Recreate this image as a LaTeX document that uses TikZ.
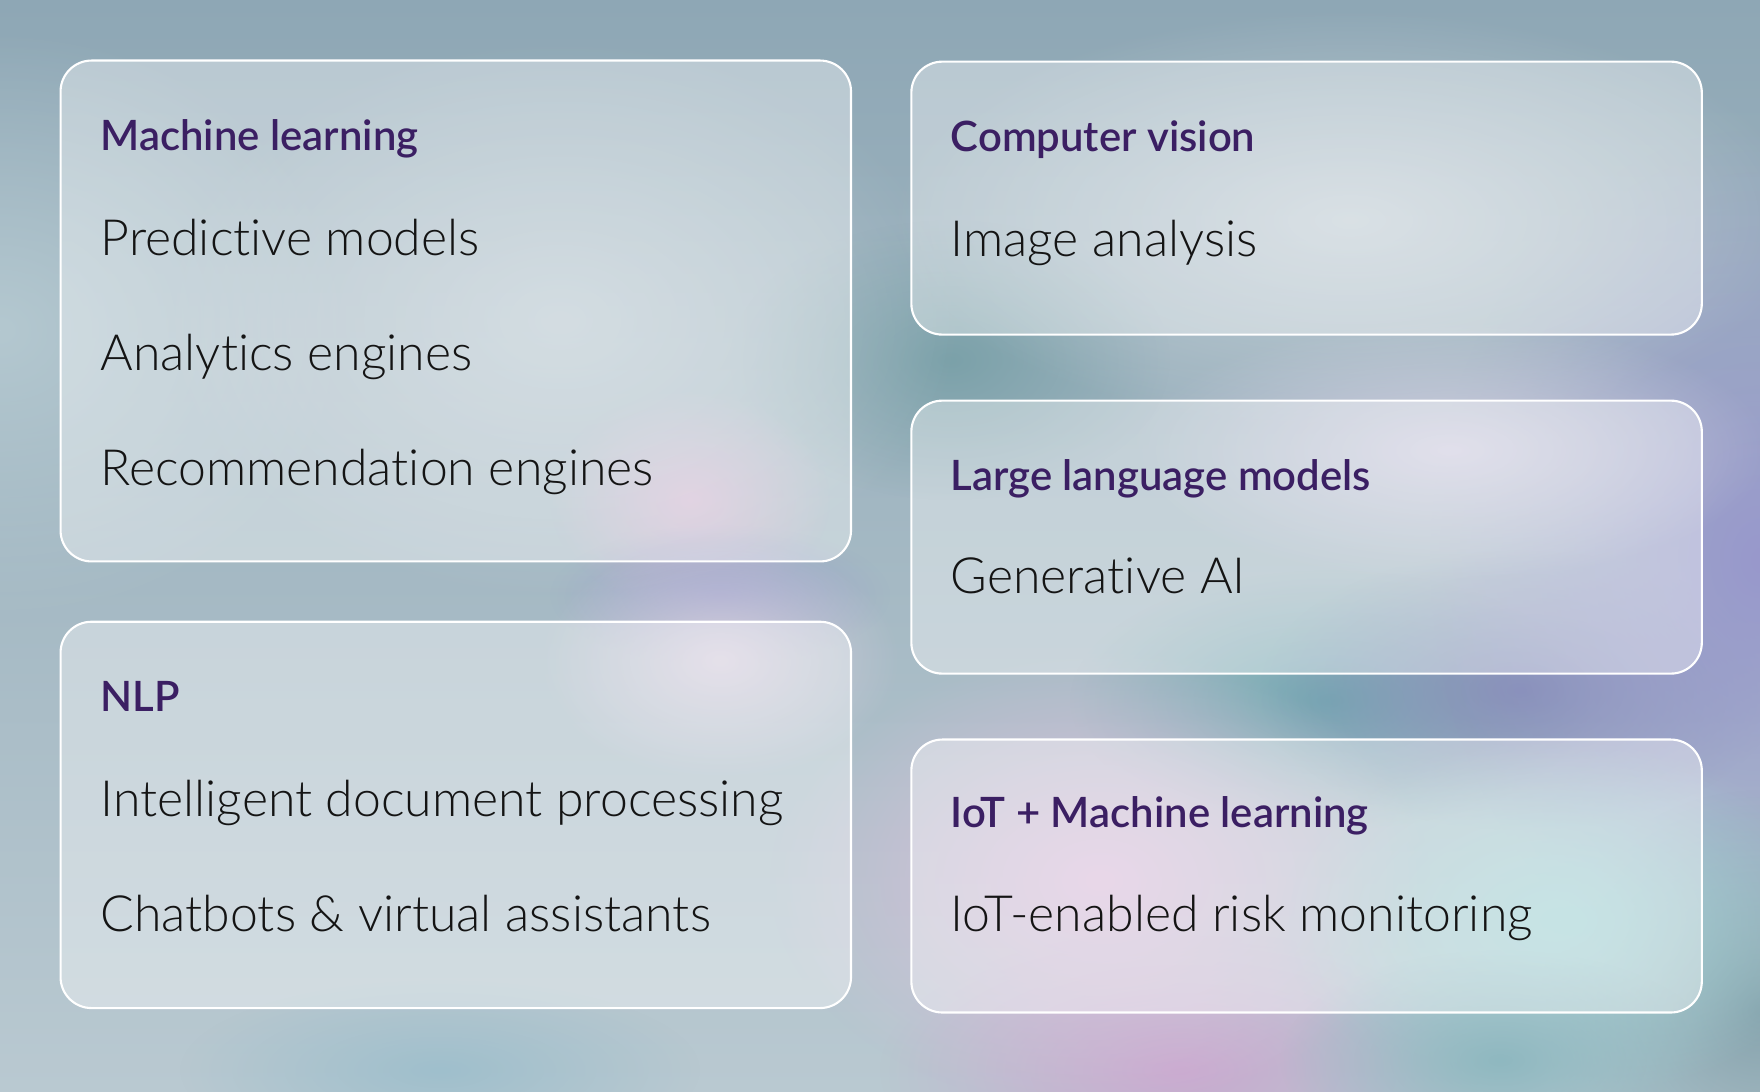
\documentclass[tikz,border=0pt]{standalone}
\usepackage{fontspec}
\setmainfont{Lato}
\newfontfamily\thinfont{Lato Light}[Ligatures={NoCommon}]
\newfontfamily\headfont{Lato Semibold}[Ligatures={NoCommon}]
\usepackage{tikz}
\usetikzlibrary{fadings}

\definecolor{headpurple}{HTML}{3B1F63}
\definecolor{inkblack}{HTML}{141414}
\definecolor{bgtop}{HTML}{8EA7B5}
\definecolor{bgbottom}{HTML}{B9C9D1}

\tikzfading[name=blobfade, inner color=transparent!0, outer color=transparent!100]

\begin{document}
\begin{tikzpicture}[x=0.01cm, y=-0.01cm,
		card/.style={draw=white, line width=0.6pt, fill=white, fill opacity=0.38,
			rounded corners=0.31cm, anchor=north west, inner sep=0pt, minimum width=7.9cm},
		head/.style={anchor=base west, inner sep=0pt, text=headpurple,
			font=\headfont\fontsize{11.9}{14}\selectfont},
		item/.style={anchor=base west, inner sep=0pt, text=inkblack,
			font=\thinfont\fontsize{14.2}{17}\selectfont}]
			\useasboundingbox (0, 0) rectangle (1760, 1092);

			% background
			\shade[top color=bgtop, bottom color=bgbottom] (0, 0) rectangle (1760, 1092);
			\fill[color={rgb,255:red,180;green,200;blue,208}, path fading=blobfade] (0, 330) ellipse (350 and 300);
			\fill[color={rgb,255:red,123;green,161;blue,169}, path fading=blobfade] (950, 360) ellipse (220 and 140);
			\fill[color={rgb,255:red,116;green,170;blue,178}, path fading=blobfade] (1330, 700) ellipse (260 and 130);
			\fill[color={rgb,255:red,135;green,144;blue,184}, path fading=blobfade] (1520, 690) ellipse (260 and 140);
			\fill[color={rgb,255:red,152;green,152;blue,204}, path fading=blobfade] (1760, 560) ellipse (330 and 430);
			\fill[color={rgb,255:red,134;green,163;blue,173}, path fading=blobfade] (1760, 1010) ellipse (220 and 220);
			\fill[color={rgb,255:red,201;green,169;blue,207}, path fading=blobfade] (1180, 1070) ellipse (300 and 140);
			\fill[color={rgb,255:red,220;green,192;blue,220}, path fading=blobfade] (1100, 880) ellipse (330 and 230);
			\fill[color={rgb,255:red,164;green,212;blue,214}, path fading=blobfade] (1560, 920) ellipse (280 and 180);
			\fill[color={rgb,255:red,207;green,179;blue,207}, path fading=blobfade] (690, 500) ellipse (140 and 110);
			\fill[color={rgb,255:red,154;green,162;blue,204}, path fading=blobfade] (720, 595) ellipse (170 and 70);
			\fill[color={rgb,255:red,224;green,228;blue,232}, fill opacity=0.6, path fading=blobfade] (1350, 220) ellipse (460 and 210);
			\fill[color={rgb,255:red,207;green,205;blue,224}, path fading=blobfade] (1450, 450) ellipse (320 and 130);
			\fill[color={rgb,255:red,143;green,184;blue,192}, path fading=blobfade] (1500, 1060) ellipse (220 and 110);
			\fill[color={rgb,255:red,159;green,191;blue,204}, path fading=blobfade] (440, 1070) ellipse (260 and 90);
			\fill[color={rgb,255:red,216;green,224;blue,228}, fill opacity=0.5, path fading=blobfade] (560, 320) ellipse (400 and 280);
			\fill[color={rgb,255:red,214;green,206;blue,222}, path fading=blobfade] (720, 660) ellipse (180 and 120);

			% cards
			\node[card, minimum height=5.006cm] (ml) at (59.5, 59.5) {};
			\node[card, minimum height=3.861cm] (nlp) at (59.5, 620.7) {};
			\node[card, minimum height=2.728cm] (cv) at (910.3, 60.6) {};
			\node[card, minimum height=2.728cm] (llm) at (910.3, 399.6) {};
			\node[card, minimum height=2.728cm] (iot) at (910.3, 738.5) {};

			% left column
			\node[head] (mlhead) at (100, 151) {Machine learning};
			\node[item] (predict) at (100, 256) {Predictive models};
			\node[item] (analytics) at (100, 371) {Analytics engines};
			\node[item] (recommend) at (100, 486) {Recommendation engines};

			\node[head] (nlphead) at (100, 712) {NLP};
			\node[item] (idp) at (100, 817) {Intelligent document processing};
			\node[item] (chatbots) at (100, 932) {Chatbots \& virtual assistants};

			% right column
			\node[head] (cvhead) at (950, 152) {Computer vision};
			\node[item] (image) at (950, 257) {Image analysis};

			\node[head] (llmhead) at (950, 491) {Large language models};
			\node[item] (genai) at (950, 594) {Generative AI};

			\node[head] (iothead) at (950, 828) {IoT + Machine learning};
			\node[item] (iotrisk) at (950, 932) {IoT-enabled risk monitoring};
		\end{tikzpicture}
\end{document}
